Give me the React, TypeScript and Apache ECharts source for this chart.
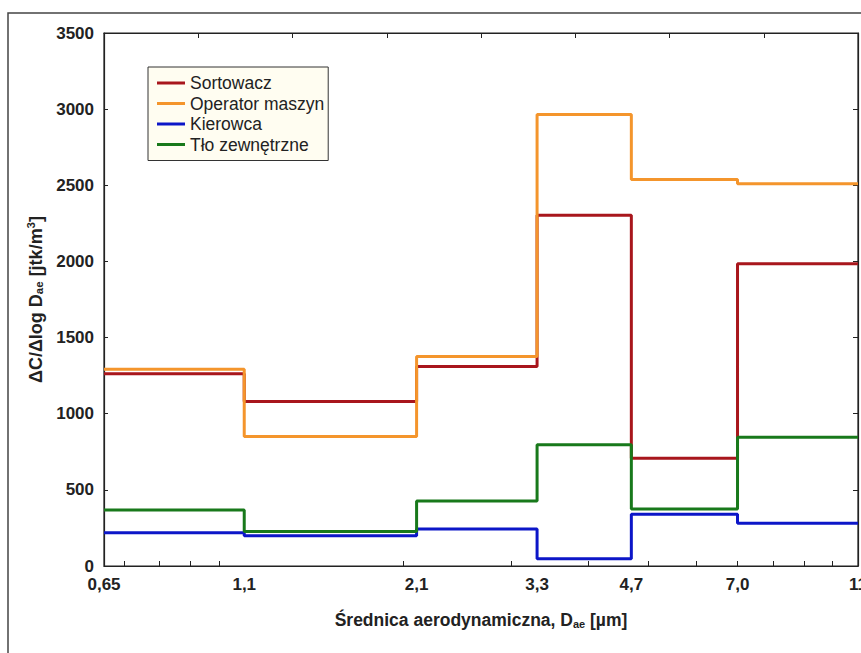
import React, { useEffect, useRef } from "react";
import * as echarts from "echarts";

// Bin edges of the impactor stages (µm) and their printed labels
const edges = [0.65, 1.1, 2.1, 3.3, 4.7, 7.0, 11];
const edgeLabels = ["0,65", "1,1", "2,1", "3,3", "4,7", "7,0", "11"];
// Logarithmic minor tick positions along the x axis
const minorTicks = [0.7, 0.8, 0.9, 1, 2, 3, 4, 5, 6, 7, 8, 9, 10];

// Series values per bin
const seriesNames = ["Sortowacz", "Operator maszyn", "Kierowca", "Tło zewnętrzne"];
const sortowacz = [1262, 1080, 1310, 2303, 708, 1985];
const operatorMaszyn = [1292, 850, 1376, 2965, 2538, 2510];
const kierowca = [219, 199, 243, 48, 340, 281];
const tloZewnetrzne = [368, 226, 427, 796, 375, 846];

const colors = ["#a8161c", "#f4952c", "#0c16c8", "#18791b"];

const yMin = 0;
const yMax = 3500;
const yInterval = 500;

function stepData(values: number[]) {
  return edges.map((e, i) => [Math.log10(e), values[Math.min(i, values.length - 1)]]);
}

function labelFor(v: number) {
  let best = 0;
  let bestD = Infinity;
  edges.forEach((e, i) => {
    const d = Math.abs(Math.log10(e) - v);
    if (d < bestD) {
      bestD = d;
      best = i;
    }
  });
  return edgeLabels[best];
}

export default function App() {
  const ref = useRef<HTMLDivElement>(null);

  useEffect(() => {
    if (!ref.current) return;
    const chart = echarts.init(ref.current, undefined, { renderer: "svg" });
    const font = "'Liberation Sans', Arial, sans-serif";
    const axisColor = "#222";
    const all = [sortowacz, operatorMaszyn, kierowca, tloZewnetrzne];

    chart.setOption({
      animation: false,
      backgroundColor: "#ffffff",
      textStyle: { fontFamily: font },
      graphic: [
        {
          type: "polyline",
          shape: { points: [[8, 653], [8, 13], [861, 13]] },
          style: { fill: "none", stroke: "#444", lineWidth: 1.5 },
          silent: true,
        },
      ],
      grid: {
        left: 104,
        top: 33,
        right: 3,
        bottom: 87,
        outerBoundsMode: "none",
        containLabel: false,
        show: true,
        borderColor: axisColor,
        borderWidth: 1.2,
        backgroundColor: "transparent",
      },
      legend: {
        orient: "vertical",
        left: 148,
        top: 67,
        icon: "rect",
        itemWidth: 28,
        itemHeight: 3,
        itemGap: 2.5,
        padding: [7, 4, 7, 9],
        backgroundColor: "#fffdf1",
        borderColor: "#333",
        borderWidth: 1,
        textStyle: { fontSize: 17.5, color: "#222", fontFamily: font },
        data: seriesNames,
      },
      xAxis: [
        {
          type: "value",
          min: Math.log10(edges[0]),
          max: Math.log10(edges[edges.length - 1]),
          splitLine: { show: false },
          axisLine: { show: true, onZero: false, lineStyle: { color: axisColor, width: 1.2 } },
          axisTick: {
            show: true,
            inside: true,
            length: 5,
            customValues: minorTicks.map((t) => Math.log10(t)),
            lineStyle: { color: axisColor },
          },
          axisLabel: {
            show: true,
            customValues: edges.map((e) => Math.log10(e)),
            formatter: (v: number) => labelFor(v),
            fontSize: 17,
            fontWeight: "bold",
            color: "#222",
            margin: 10,
            showMinLabel: true,
            showMaxLabel: true,
          },
          name: "{b|Średnica aerodynamiczna, D}{sub|ae}{b| [µm]}",
          nameLocation: "middle",
          nameGap: 54,
          nameTextStyle: {
            verticalAlign: "middle",
            rich: {
              b: { fontSize: 17.5, fontWeight: "bold", color: "#222", fontFamily: font },
              sub: {
                fontSize: 11,
                fontWeight: "bold",
                color: "#222",
                padding: [7, 0, 0, 0],
                fontFamily: font,
              },
            },
          },
        },
        {
          type: "value",
          position: "top",
          min: 0,
          max: 8,
          interval: 1,
          splitLine: { show: false },
          axisLine: { show: true, onZero: false, lineStyle: { color: axisColor, width: 1.2 } },
          axisTick: { show: true, inside: true, length: 5, lineStyle: { color: axisColor } },
          axisLabel: { show: false },
        },
      ],
      yAxis: [
        {
          type: "value",
          min: yMin,
          max: yMax,
          interval: yInterval,
          splitLine: { show: false },
          axisLine: { show: true, onZero: false, lineStyle: { color: axisColor, width: 1.2 } },
          axisTick: { show: true, inside: true, length: 4, lineStyle: { color: axisColor } },
          axisLabel: {
            fontSize: 17,
            fontWeight: "bold",
            color: "#222",
            margin: 10,
            formatter: (v: number) => String(v),
          },
          name: "{b|ΔC/Δlog D}{sub|ae}{b| [jtk/m}{sup|3}{b|]}",
          nameLocation: "middle",
          nameRotate: 90,
          nameGap: 68,
          nameTextStyle: {
            verticalAlign: "middle",
            rich: {
              b: { fontSize: 18, fontWeight: "bold", color: "#222", fontFamily: font },
              sub: {
                fontSize: 11.5,
                fontWeight: "bold",
                color: "#222",
                padding: [7, 0, 0, 0],
                fontFamily: font,
              },
              sup: {
                fontSize: 11.5,
                fontWeight: "bold",
                color: "#222",
                padding: [0, 0, 9, 0],
                fontFamily: font,
              },
            },
          },
        },
        {
          type: "value",
          position: "right",
          min: yMin,
          max: yMax,
          interval: yInterval,
          splitLine: { show: false },
          axisLine: { show: true, onZero: false, lineStyle: { color: axisColor, width: 1.2 } },
          axisTick: { show: true, inside: true, length: 5, lineStyle: { color: axisColor } },
          axisLabel: { show: false },
        },
      ],
      series: seriesNames.map((name, i) => ({
        name,
        type: "line",
        xAxisIndex: 0,
        yAxisIndex: 0,
        step: "end",
        symbol: "none",
        showSymbol: false,
        data: stepData(all[i]),
        lineStyle: { color: colors[i], width: 3 },
        itemStyle: { color: colors[i] },
        z: 2 + i,
      })),
    });

    return () => chart.dispose();
  }, []);

  return (
    <div
      ref={ref}
      style={{ position: "fixed", left: 0, top: 0, width: 861, height: 653 }}
    />
  );
}
